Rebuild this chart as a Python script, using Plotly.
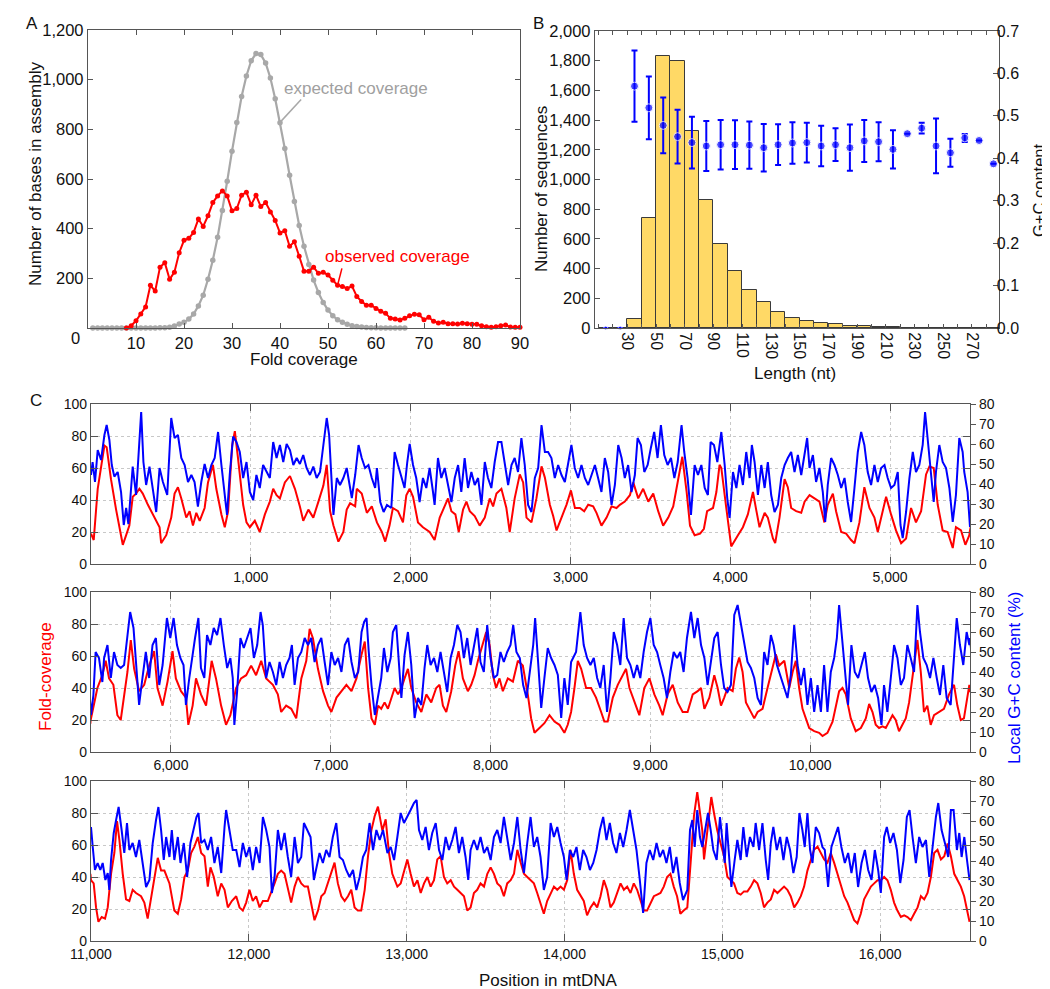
import plotly.graph_objects as go

# ---------------- DATA ----------------
# Panel A: fold coverage histogram
expected_x = list(range(1, 67))
expected_y = [0, 0, 0, 0, 0, 0, 0, 0, 0, 0, 0, 0, 0, 0, 1, 1, 3, 8, 16, 23,
              36, 56, 89, 132, 196, 273, 365, 473, 591, 712, 828, 932, 1015, 1076, 1105, 1101,
              1067, 1007, 923, 827, 723, 615, 509, 413, 329, 256, 193, 143, 103, 72,
              49, 33, 23, 15, 9, 6, 4, 2, 1, 1, 0, 0, 0, 0, 0, 0]
observed_x = list(range(8, 91))
observed_y = [0, 9, 29, 56, 85, 172, 149, 245, 263, 196, 225, 303, 353, 361, 385, 439,
              409, 452, 505, 532, 552, 532, 472, 481, 535, 547, 496, 535, 489, 505, 467, 433,
              383, 392, 329, 347, 289, 229, 229, 245, 220, 225, 213, 192, 172, 167, 159, 169,
              127, 107, 92, 92, 79, 67, 59, 39, 36, 32, 39, 49, 55, 53, 33, 43,
              27, 20, 23, 17, 17, 16, 19, 17, 15, 15, 9, 5, 3, 5, 9, 12, 4, 3, 3]

# Panel B: read-length histogram and G+C content
length_bins = [15, 25, 35, 45, 55, 65, 75, 85, 95, 105, 115, 125, 135, 145, 155, 165,
               175, 185, 195, 205, 215, 225, 235, 245, 255, 265, 275, 285]
seq_counts = [0, 0, 59, 742, 1835, 1795, 1324, 864, 566, 386, 253, 176, 106, 68, 45, 35,
              25, 16, 11, 5, 5, 1, 1, 1, 1, 1, 1, 0]
gc_mean = [0.0, 0.0, 0.570, 0.519, 0.4775, 0.451, 0.437, 0.429, 0.432, 0.432, 0.431, 0.425,
           0.432, 0.436, 0.437, 0.429, 0.432, 0.425, 0.441, 0.439, 0.421, 0.458, 0.471, 0.429,
           0.413, 0.448, 0.442, 0.387]
gc_err = [0, 0, 0.084, 0.074, 0.0655, 0.0635, 0.061, 0.059, 0.0585, 0.0575, 0.0555, 0.056,
          0.048, 0.049, 0.047, 0.0475, 0.0385, 0.0545, 0.0495, 0.046, 0.045, 0, 0.0125, 0.0645,
          0.033, 0.0095, 0, 0]
length_tick_vals = list(range(10, 290, 10))
length_tick_labels = ["30", "50", "70", "90", "110", "130", "150", "170", "190", "210", "230", "250", "270"]

# Panel C: fold coverage (position, value) along mtDNA
coverage_points = [
    (0, 19), (17, 15), (42, 47), (84, 74), (98, 73), (125, 53), (157, 34), (199, 12), (220, 18), (240, 24),
    (261, 42), (282, 44), (303, 47), (324, 44), (356, 37), (397, 29), (429, 23), (439, 13), (471, 18), (502, 29),
    (523, 44), (544, 48), (565, 41), (596, 29), (617, 33), (638, 24), (659, 32), (680, 27), (711, 35), (732, 51),
    (763, 62), (784, 47), (816, 31), (837, 23), (858, 33), (883, 74), (900, 83), (920, 66), (952, 37), (973, 26),
    (994, 23), (1025, 27), (1056, 20), (1088, 31), (1119, 39), (1140, 47), (1161, 43), (1182, 41), (1213, 51), (1245, 55),
    (1276, 47), (1307, 36), (1328, 27), (1360, 34), (1391, 29), (1423, 39), (1454, 49), (1475, 62), (1496, 33), (1517, 24),
    (1548, 14), (1579, 20), (1600, 34), (1621, 38), (1653, 36), (1663, 47), (1694, 44), (1726, 32), (1757, 36), (1789, 26),
    (1820, 20), (1841, 14), (1868, 24), (1889, 35), (1921, 33), (1952, 26), (1973, 43), (1994, 47), (2015, 42), (2046, 26),
    (2077, 23), (2119, 20), (2150, 15), (2182, 29), (2213, 36), (2234, 41), (2255, 33), (2280, 31), (2301, 20), (2328, 34),
    (2349, 39), (2370, 33), (2401, 30), (2432, 24), (2464, 29), (2495, 41), (2516, 36), (2537, 44), (2568, 47), (2599, 35),
    (2620, 20), (2651, 41), (2683, 56), (2704, 51), (2725, 29), (2756, 26), (2787, 41), (2819, 61), (2840, 54), (2871, 37),
    (2892, 30), (2913, 21), (2944, 29), (2975, 37), (3003, 46), (3028, 35), (3059, 35), (3086, 33), (3111, 37), (3142, 36),
    (3163, 32), (3194, 24), (3226, 29), (3257, 36), (3288, 35), (3309, 37), (3340, 39), (3372, 43), (3393, 51), (3424, 41),
    (3455, 47), (3487, 39), (3518, 44), (3549, 33), (3580, 24), (3612, 29), (3643, 36), (3675, 54), (3700, 67), (3727, 45),
    (3748, 24), (3777, 18), (3811, 19), (3835, 22), (3855, 33), (3892, 35), (3913, 45), (3933, 62), (3944, 60), (3975, 35),
    (4006, 11), (4048, 18), (4079, 23), (4110, 31), (4142, 45), (4162, 34), (4183, 23), (4215, 32), (4235, 29), (4267, 16),
    (4281, 13), (4308, 29), (4340, 53), (4360, 48), (4381, 35), (4412, 33), (4444, 32), (4465, 39), (4496, 43), (4527, 41),
    (4558, 39), (4589, 26), (4610, 37), (4642, 44), (4662, 33), (4694, 20), (4725, 19), (4756, 15), (4777, 13), (4808, 26),
    (4839, 48), (4871, 35), (4902, 29), (4923, 20), (4954, 33), (4975, 42), (5006, 31), (5037, 21), (5069, 13), (5100, 16),
    (5131, 35), (5162, 26), (5194, 33), (5225, 56), (5246, 61), (5273, 60), (5298, 37), (5329, 21), (5360, 20), (5392, 10),
    (5412, 23), (5444, 21), (5471, 12), (5496, 18),
    (5498, 20), (5540, 40), (5571, 48), (5592, 57), (5613, 46), (5640, 42), (5665, 23), (5686, 20), (5707, 36), (5728, 50),
    (5749, 70), (5770, 52), (5801, 38), (5833, 42), (5864, 54), (5895, 63), (5916, 40), (5948, 29), (5979, 44), (6010, 63),
    (6031, 46), (6063, 38), (6094, 34), (6109, 17), (6136, 29), (6157, 46), (6188, 36), (6220, 29), (6255, 57), (6282, 46),
    (6314, 29), (6345, 17), (6372, 23), (6408, 40), (6439, 46), (6471, 48), (6502, 54), (6533, 48), (6565, 57), (6596, 46),
    (6638, 42), (6669, 36), (6690, 25), (6721, 29), (6753, 27), (6784, 21), (6816, 46), (6847, 57), (6868, 77), (6889, 71),
    (6920, 52), (6952, 38), (6983, 29), (7004, 25), (7036, 34), (7067, 38), (7098, 42), (7130, 38), (7161, 46), (7193, 61),
    (7213, 69), (7234, 40), (7255, 21), (7276, 17), (7296, 29), (7316, 27), (7337, 31), (7358, 27), (7379, 34), (7400, 40),
    (7421, 36), (7442, 40), (7462, 46), (7483, 52), (7504, 40), (7535, 31), (7567, 25), (7598, 36), (7629, 31), (7660, 40),
    (7681, 42), (7702, 29), (7723, 25), (7754, 38), (7779, 54), (7800, 63), (7827, 46), (7858, 38), (7879, 42), (7900, 48),
    (7921, 57), (7952, 67), (7973, 75), (7994, 67), (8015, 48), (8035, 40), (8056, 46), (8077, 38), (8108, 46), (8140, 44),
    (8171, 57), (8202, 54), (8233, 36), (8254, 21), (8275, 12), (8306, 15), (8337, 18), (8369, 23), (8400, 19), (8431, 17),
    (8462, 12), (8483, 17), (8504, 25), (8525, 40), (8546, 57), (8567, 52), (8598, 40), (8629, 40), (8660, 34), (8692, 25),
    (8712, 19), (8733, 19), (8765, 34), (8796, 42), (8827, 48), (8848, 52), (8869, 40), (8900, 31), (8931, 23), (8962, 40),
    (8994, 46), (9025, 36), (9056, 29), (9077, 23), (9108, 36), (9140, 42), (9171, 31), (9202, 25), (9233, 25), (9265, 36),
    (9296, 38), (9317, 40), (9338, 27), (9369, 34), (9400, 48), (9421, 40), (9442, 29), (9462, 34), (9483, 40), (9515, 38),
    (9535, 52), (9556, 59), (9577, 50), (9598, 31), (9619, 27), (9650, 21), (9671, 25), (9702, 27), (9733, 40), (9765, 54),
    (9785, 61), (9806, 54), (9838, 57), (9869, 40), (9890, 50), (9910, 57), (9931, 40), (9952, 27), (9973, 21), (9994, 15),
    (10025, 13), (10056, 12), (10077, 10), (10108, 12), (10140, 19), (10160, 29), (10181, 38), (10202, 40), (10223, 36), (10254, 21),
    (10285, 13), (10317, 15), (10348, 21), (10369, 30), (10390, 25), (10410, 17), (10431, 15), (10452, 16), (10473, 15), (10494, 19),
    (10515, 23), (10535, 20), (10556, 13), (10577, 17), (10598, 21), (10619, 31), (10646, 50), (10671, 70), (10692, 50), (10712, 25),
    (10733, 29), (10754, 17), (10775, 23), (10806, 25), (10837, 27), (10869, 36), (10900, 42), (10921, 29), (10942, 20), (10962, 21),
    (10983, 34), (10996, 42),
    (11000, 38), (11017, 36), (11032, 21), (11047, 12), (11068, 15), (11089, 14), (11106, 21), (11127, 42), (11148, 55), (11165, 75),
    (11180, 63), (11201, 42), (11222, 26), (11243, 25), (11264, 32), (11285, 30), (11317, 28), (11338, 24), (11359, 14), (11381, 28),
    (11402, 40), (11423, 52), (11444, 44), (11465, 44), (11497, 36), (11528, 19), (11550, 17), (11571, 26), (11592, 40), (11613, 44),
    (11634, 55), (11655, 59), (11677, 65), (11698, 55), (11719, 53), (11740, 34), (11757, 46), (11778, 40), (11803, 28), (11825, 36),
    (11846, 32), (11867, 21), (11892, 25), (11920, 28), (11941, 21), (11962, 19), (11983, 24), (12004, 32), (12025, 25), (12046, 28),
    (12068, 21), (12089, 25), (12120, 25), (12141, 30), (12163, 36), (12184, 42), (12205, 44), (12226, 42), (12247, 32), (12268, 24),
    (12290, 34), (12311, 40), (12332, 36), (12353, 34), (12374, 34), (12395, 24), (12416, 13), (12438, 19), (12459, 28), (12480, 30),
    (12501, 36), (12522, 42), (12543, 49), (12564, 36), (12586, 28), (12607, 25), (12628, 28), (12649, 32), (12670, 21), (12691, 19),
    (12712, 19), (12734, 32), (12755, 53), (12776, 69), (12797, 78), (12818, 84), (12846, 69), (12867, 76), (12888, 55), (12909, 42),
    (12941, 34), (12962, 36), (12983, 44), (13004, 51), (13025, 42), (13046, 34), (13068, 38), (13089, 30), (13110, 36), (13131, 40),
    (13152, 34), (13173, 38), (13194, 51), (13215, 53), (13236, 40), (13257, 36), (13279, 38), (13300, 34), (13321, 32), (13342, 30),
    (13363, 28), (13384, 19), (13405, 21), (13426, 30), (13447, 32), (13468, 36), (13490, 34), (13511, 42), (13532, 46), (13553, 42),
    (13574, 36), (13595, 34), (13616, 28), (13637, 36), (13659, 38), (13680, 42), (13701, 57), (13722, 49), (13743, 42), (13764, 40),
    (13785, 38), (13806, 36), (13827, 30), (13848, 24), (13869, 17), (13890, 25), (13912, 30), (13933, 34), (13954, 32), (13975, 34),
    (13996, 32), (14017, 38), (14038, 57), (14059, 42), (14080, 32), (14101, 28), (14122, 25), (14143, 16), (14165, 21), (14186, 24),
    (14207, 21), (14228, 28), (14249, 38), (14270, 32), (14291, 21), (14312, 24), (14333, 30), (14355, 36), (14376, 32), (14397, 34),
    (14418, 30), (14439, 36), (14460, 32), (14481, 25), (14502, 19), (14523, 19), (14545, 24), (14566, 28), (14587, 29), (14608, 30),
    (14629, 34), (14650, 40), (14671, 42), (14692, 34), (14713, 28), (14734, 17), (14755, 19), (14778, 21), (14799, 49), (14820, 78),
    (14841, 93), (14858, 80), (14873, 69), (14884, 51), (14905, 69), (14930, 90), (14947, 80), (14968, 69), (14989, 61), (15011, 53),
    (15032, 40), (15053, 38), (15074, 36), (15095, 30), (15116, 29), (15137, 31), (15159, 31), (15180, 34), (15201, 38), (15222, 36),
    (15243, 30), (15264, 21), (15285, 24), (15307, 26), (15328, 32), (15349, 30), (15370, 32), (15391, 34), (15412, 32), (15433, 28),
    (15455, 21), (15476, 24), (15497, 28), (15518, 34), (15539, 44), (15560, 51), (15581, 57), (15603, 59), (15624, 55), (15645, 51),
    (15666, 49), (15687, 55), (15708, 49), (15729, 42), (15751, 34), (15772, 28), (15793, 24), (15814, 19), (15835, 13), (15856, 11),
    (15877, 17), (15898, 26), (15919, 30), (15941, 34), (15962, 36), (15983, 38), (16004, 38), (16025, 40), (16046, 38), (16067, 32),
    (16088, 24), (16109, 19), (16131, 15), (16152, 16), (16173, 15), (16194, 13), (16215, 17), (16237, 21), (16258, 28), (16279, 26),
    (16300, 30), (16321, 40), (16342, 55), (16363, 57), (16385, 51), (16406, 53), (16427, 61), (16448, 53), (16469, 42), (16490, 38),
    (16511, 34), (16532, 28), (16553, 17), (16566, 12),
]

# Panel C: local G+C content (%) (position, value)
gc_points = [
    (0, 44.5), (10, 51), (25, 41), (42, 57), (63, 52), (84, 64.5), (98, 69.5), (115, 62), (130, 49.5), (146, 43.7),
    (167, 46), (188, 36), (205, 19.5), (220, 28), (234, 20), (261, 48.7), (282, 34.5), (303, 63.7), (314, 76), (328, 51),
    (345, 39.5), (366, 48.7), (387, 36), (408, 26), (429, 48), (450, 41), (477, 34.5), (502, 73), (523, 63), (544, 64.5),
    (565, 53), (586, 49.5), (607, 41), (628, 44.5), (648, 41), (669, 28.7), (690, 41), (711, 50), (732, 43), (753, 49.5),
    (774, 53), (795, 66), (816, 49.5), (837, 33), (851, 24.5), (868, 44.5), (889, 63.7), (910, 61), (931, 56), (952, 43),
    (973, 51), (994, 36), (1015, 32), (1035, 44.5), (1056, 38), (1077, 49.5), (1098, 46), (1119, 43), (1140, 61), (1161, 53),
    (1182, 59.5), (1203, 51), (1224, 60), (1245, 57), (1266, 49.5), (1287, 53), (1307, 50), (1328, 54.5), (1349, 48), (1370, 44.5),
    (1391, 48.7), (1412, 43), (1433, 46), (1454, 59.5), (1475, 73), (1490, 64.5), (1506, 43), (1517, 24.5), (1538, 43), (1558, 39.5),
    (1579, 43), (1600, 48), (1632, 33), (1653, 44.5), (1674, 59.5), (1694, 53), (1715, 48), (1736, 49.5), (1757, 43), (1778, 38),
    (1789, 48), (1810, 31), (1831, 26), (1852, 29.5), (1879, 28), (1900, 56), (1921, 49.5), (1942, 43), (1962, 38), (1979, 51),
    (1994, 60), (2015, 49.5), (2035, 43), (2056, 31), (2077, 43), (2098, 38), (2119, 48), (2140, 36), (2150, 29.5), (2171, 53),
    (2192, 43), (2213, 48), (2234, 39.5), (2255, 31), (2276, 43), (2297, 49.5), (2317, 36), (2338, 53), (2359, 38), (2380, 46),
    (2401, 39.5), (2422, 43), (2443, 29.5), (2464, 51), (2484, 43), (2505, 38), (2526, 51), (2547, 61), (2568, 61), (2589, 51),
    (2610, 39.5), (2631, 49.5), (2651, 53), (2672, 46), (2693, 63), (2714, 49.5), (2735, 29.5), (2756, 26), (2777, 43), (2798, 48),
    (2819, 69.5), (2840, 56), (2860, 56), (2881, 53), (2902, 43), (2923, 49.5), (2944, 44.5), (2965, 41), (2986, 49.5), (3006, 59.5),
    (3027, 48), (3048, 43), (3069, 49.5), (3090, 43), (3111, 39.5), (3132, 44.5), (3153, 49.5), (3173, 43), (3194, 36), (3215, 53),
    (3236, 46), (3257, 29.5), (3278, 39.5), (3299, 59.5), (3320, 53), (3340, 43), (3361, 49.5), (3382, 36), (3403, 44.5), (3420, 63),
    (3441, 59.5), (3462, 46), (3483, 49.5), (3503, 58), (3524, 66), (3545, 53), (3566, 69.5), (3587, 54.5), (3608, 49.5), (3629, 53),
    (3650, 43), (3671, 51), (3695, 69.5), (3712, 56), (3733, 43), (3754, 24.5), (3777, 49.5), (3798, 44.5), (3819, 49.5), (3840, 38),
    (3860, 34.5), (3877, 61), (3898, 59.5), (3919, 51), (3944, 66), (3965, 49.5), (3981, 33), (3996, 23), (4017, 46), (4038, 38),
    (4058, 49.5), (4079, 39.5), (4100, 56), (4121, 43), (4135, 59.5), (4152, 51), (4173, 34.5), (4194, 49.5), (4215, 38), (4235, 51),
    (4256, 34.5), (4277, 26), (4298, 29.5), (4319, 43), (4340, 49.5), (4360, 53), (4381, 56), (4402, 46), (4423, 54.5), (4444, 44.5),
    (4465, 56), (4481, 63), (4496, 48), (4517, 54.5), (4537, 41), (4558, 48), (4579, 36), (4594, 21), (4610, 39.5), (4631, 53),
    (4652, 49.5), (4673, 44.5), (4694, 38), (4715, 43), (4735, 31), (4756, 21), (4777, 38), (4798, 56), (4819, 66), (4839, 59.5),
    (4860, 46), (4881, 39.5), (4902, 49.5), (4923, 41), (4944, 48), (4965, 49.5), (4985, 43), (5006, 38), (5027, 39.5), (5048, 46),
    (5065, 19.5), (5079, 13), (5100, 26), (5121, 43), (5142, 56), (5162, 46), (5183, 49.5), (5204, 59.5), (5219, 76), (5235, 63),
    (5256, 48), (5273, 31), (5287, 46), (5308, 59.5), (5329, 51), (5350, 48), (5371, 38), (5392, 21), (5412, 34.5), (5433, 63),
    (5454, 56), (5464, 46), (5485, 36), (5498, 19.5),
    (5500, 18.5), (5515, 28.5), (5529, 50), (5550, 47), (5571, 35), (5582, 47), (5603, 53.5), (5624, 37), (5644, 50), (5665, 43.5),
    (5686, 42), (5707, 43.5), (5728, 60), (5745, 70), (5766, 62), (5786, 37), (5801, 23.5), (5822, 37), (5843, 50), (5864, 37),
    (5885, 53.5), (5906, 57), (5927, 33.5), (5948, 43.5), (5975, 67), (5996, 57), (6017, 67), (6038, 53.5), (6059, 47), (6079, 43.5),
    (6094, 23.5), (6115, 37), (6136, 50), (6151, 57), (6172, 67), (6188, 42), (6209, 37), (6226, 58.5), (6247, 53.5), (6268, 62),
    (6289, 58.5), (6310, 67), (6331, 53.5), (6352, 42), (6372, 47), (6387, 37), (6397, 13.5), (6414, 30), (6435, 57), (6456, 52),
    (6477, 57), (6498, 62), (6519, 47), (6540, 53.5), (6561, 70), (6575, 63.5), (6596, 37), (6617, 45), (6638, 40), (6659, 33.5),
    (6680, 45), (6701, 37), (6721, 43.5), (6742, 47), (6757, 53.5), (6774, 33.5), (6795, 47), (6816, 50), (6837, 57), (6858, 53.5),
    (6878, 57), (6899, 45), (6920, 53.5), (6941, 57), (6962, 45), (6983, 33.5), (7004, 50), (7025, 43.5), (7046, 47), (7067, 40),
    (7088, 53.5), (7109, 57), (7130, 45), (7151, 37), (7172, 40), (7193, 60), (7209, 65), (7224, 67), (7238, 50), (7255, 33.5),
    (7276, 18.5), (7316, 37), (7333, 52), (7354, 40), (7375, 47), (7389, 60), (7410, 63.5), (7431, 37), (7442, 27), (7462, 48.5),
    (7483, 60), (7504, 43.5), (7525, 17), (7546, 27), (7567, 23.5), (7587, 42), (7604, 53.5), (7625, 43.5), (7646, 47), (7667, 40),
    (7687, 50), (7708, 40), (7729, 30), (7750, 47), (7771, 53.5), (7792, 63.5), (7812, 60), (7833, 47), (7854, 57), (7875, 43.5),
    (7896, 53.5), (7917, 62), (7937, 45), (7958, 40), (7979, 63.5), (8000, 47), (8021, 37), (8042, 38.5), (8062, 50), (8083, 45),
    (8104, 50), (8125, 53.5), (8142, 63.5), (8162, 50), (8183, 47), (8204, 33.5), (8225, 27), (8246, 40), (8267, 53.5), (8279, 67),
    (8296, 47), (8317, 22), (8337, 37), (8358, 52), (8379, 47), (8400, 43.5), (8421, 38.5), (8442, 17), (8462, 37), (8483, 23.5),
    (8504, 45), (8535, 50), (8562, 70), (8583, 53.5), (8604, 47), (8625, 43.5), (8646, 47), (8667, 37), (8687, 32), (8708, 43.5),
    (8729, 20), (8750, 37), (8771, 60), (8792, 53.5), (8812, 43.5), (8833, 67), (8854, 47), (8875, 43.5), (8896, 37), (8917, 43.5),
    (8937, 37), (8958, 50), (8979, 60), (9000, 67), (9021, 53.5), (9042, 50), (9062, 43.5), (9083, 37), (9104, 27), (9125, 40),
    (9146, 50), (9167, 47), (9187, 50), (9208, 40), (9229, 57), (9254, 70), (9275, 57), (9296, 67), (9317, 53.5), (9338, 47),
    (9358, 33.5), (9379, 45), (9400, 57), (9421, 60), (9442, 43.5), (9462, 32), (9483, 30), (9504, 33.5), (9525, 68.5), (9546, 73.5),
    (9567, 63.5), (9587, 53.5), (9608, 45), (9629, 42), (9650, 37), (9671, 27), (9692, 23.5), (9712, 50), (9733, 43.5), (9754, 58.5),
    (9771, 53.5), (9792, 43.5), (9817, 37), (9838, 32), (9858, 27), (9879, 38.5), (9900, 63.5), (9921, 43.5), (9942, 33.5), (9962, 42),
    (9983, 23.5), (10004, 37), (10025, 20), (10046, 33.5), (10067, 20), (10087, 43.5), (10108, 20), (10129, 40), (10150, 47), (10167, 57),
    (10181, 73.5), (10196, 60), (10217, 40), (10237, 23.5), (10258, 53.5), (10279, 40), (10300, 37), (10321, 43.5), (10342, 50), (10362, 37),
    (10383, 30), (10404, 33.5), (10425, 27), (10446, 13.5), (10462, 33.5), (10483, 20), (10504, 37), (10525, 53.5), (10546, 47), (10567, 33.5),
    (10587, 37), (10608, 53.5), (10629, 47), (10650, 40), (10671, 73.5), (10687, 60), (10708, 47), (10729, 43.5), (10750, 37), (10771, 47),
    (10792, 37), (10812, 28.5), (10833, 43.5), (10854, 27), (10879, 23.5), (10900, 50), (10917, 67), (10937, 53.5), (10958, 43.5), (10979, 60),
    (10996, 53.5),
    (11000, 57), (11011, 47), (11025, 35.5), (11042, 39), (11059, 35.5), (11074, 39), (11091, 30.5), (11106, 34), (11116, 25.5), (11127, 40.5),
    (11144, 54), (11159, 60.5), (11175, 67), (11194, 55.5), (11211, 44), (11228, 59), (11243, 45.5), (11264, 49), (11285, 42), (11306, 50.5),
    (11328, 39), (11349, 27), (11370, 30.5), (11391, 49), (11412, 60.5), (11427, 67), (11444, 55.5), (11461, 40.5), (11476, 52), (11497, 42),
    (11512, 55.5), (11528, 40.5), (11550, 52), (11567, 39), (11588, 49), (11609, 32), (11630, 49), (11651, 55.5), (11668, 62), (11681, 64),
    (11698, 49), (11719, 50.5), (11740, 45.5), (11761, 52), (11782, 39), (11803, 47), (11825, 34), (11846, 57), (11856, 65.5), (11877, 55.5),
    (11898, 45.5), (11920, 45.5), (11941, 37), (11962, 49), (11983, 42), (12004, 47), (12025, 35.5), (12046, 47), (12068, 39), (12089, 62),
    (12110, 55.5), (12131, 47), (12146, 24), (12163, 32), (12184, 55.5), (12205, 45.5), (12226, 54), (12247, 42), (12268, 32), (12290, 52),
    (12311, 39), (12332, 42), (12349, 59), (12370, 55.5), (12391, 52), (12412, 30.5), (12427, 35.5), (12448, 44), (12469, 39), (12490, 45.5),
    (12511, 42), (12532, 52), (12554, 59), (12575, 42), (12596, 40.5), (12617, 35.5), (12638, 32), (12660, 35.5), (12681, 25.5), (12702, 32),
    (12723, 42), (12744, 45.5), (12765, 59), (12787, 45.5), (12808, 55.5), (12829, 50.5), (12850, 55.5), (12878, 44), (12899, 47), (12920, 40.5),
    (12941, 52), (12962, 64), (12983, 59), (13004, 62), (13025, 65.5), (13046, 69), (13063, 70.5), (13078, 55.5), (13099, 50.5), (13120, 57),
    (13141, 45.5), (13162, 54), (13184, 59), (13205, 45.5), (13226, 40.5), (13247, 52), (13268, 45.5), (13289, 50.5), (13310, 57), (13331, 44),
    (13352, 52), (13373, 42), (13390, 30.5), (13405, 45.5), (13426, 50.5), (13447, 45.5), (13468, 52), (13490, 44), (13511, 47), (13532, 40.5),
    (13553, 52), (13574, 55.5), (13595, 49), (13616, 62), (13637, 52), (13659, 40.5), (13680, 49), (13701, 62), (13722, 45.5), (13743, 34),
    (13764, 49), (13785, 62), (13806, 47), (13827, 52), (13848, 42), (13869, 25.5), (13890, 32), (13912, 59), (13933, 52), (13954, 57),
    (13975, 49), (13996, 42), (14013, 30.5), (14034, 45.5), (14055, 42), (14076, 47), (14097, 35.5), (14118, 45.5), (14139, 42), (14161, 35.5),
    (14182, 39), (14203, 45.5), (14224, 55.5), (14245, 62), (14266, 50.5), (14287, 59), (14308, 49), (14329, 44), (14351, 54), (14372, 47),
    (14393, 55.5), (14414, 65.5), (14435, 55.5), (14456, 45.5), (14477, 30.5), (14498, 14), (14519, 39), (14540, 45.5), (14562, 40.5), (14583, 49),
    (14604, 42), (14625, 45.5), (14646, 39), (14667, 47), (14688, 34), (14709, 42), (14730, 29), (14751, 20.5), (14778, 25.5), (14795, 55.5),
    (14810, 60.5), (14825, 47), (14841, 65.5), (14858, 52), (14873, 47), (14894, 57), (14909, 64), (14926, 55.5), (14943, 45.5), (14964, 40.5),
    (14985, 62), (15000, 50.5), (15015, 39), (15027, 59), (15042, 44), (15057, 27), (15078, 40.5), (15095, 50.5), (15116, 40.5), (15133, 57),
    (15154, 42), (15175, 52), (15197, 47), (15211, 59), (15233, 45.5), (15254, 59), (15275, 40.5), (15290, 30.5), (15307, 49), (15323, 57),
    (15345, 45.5), (15366, 52), (15387, 40.5), (15408, 52), (15429, 45.5), (15450, 34), (15471, 42), (15488, 64), (15507, 55.5), (15522, 47),
    (15539, 64), (15556, 45.5), (15571, 39), (15592, 57), (15613, 54), (15634, 47), (15649, 45.5), (15670, 27), (15691, 47), (15712, 52),
    (15733, 57), (15754, 47), (15776, 39), (15797, 44), (15818, 34), (15839, 44), (15860, 27), (15882, 39), (15903, 45.5), (15924, 35.5),
    (15945, 30.5), (15966, 45.5), (15987, 35.5), (16004, 24), (16025, 52), (16042, 57), (16063, 49), (16084, 54), (16106, 45.5), (16127, 29),
    (16148, 40.5), (16169, 62), (16186, 65.5), (16205, 52), (16226, 39), (16247, 52), (16268, 47), (16290, 50.5), (16311, 32), (16332, 47),
    (16353, 62), (16368, 69), (16389, 55.5), (16410, 49), (16431, 42), (16448, 65.5), (16465, 65.5), (16486, 45.5), (16501, 54), (16516, 42),
    (16533, 52), (16550, 40.5), (16566, 30.5),
]

row_ranges = [(0, 5500), (5500, 11000), (11000, 16569)]
row_ticks = [[1000, 2000, 3000, 4000, 5000],
             [6000, 7000, 8000, 9000, 10000],
             [11000, 12000, 13000, 14000, 15000, 16000]]

# ---------------- LAYOUT HELPERS ----------------
W, H = 1050, 989
FONT = "Arial, 'Liberation Sans', Helvetica, sans-serif"
AX = "#555555"
RED = "#FF0000"
BLUE = "#0000FF"
GRAY = "#A8A8A8"


def fx(p):
    return p / W


def fy(p):
    return 1 - p / H


fig = go.Figure()

# ---------- Panel A ----------
fig.add_trace(go.Scatter(x=expected_x, y=expected_y, mode="lines+markers",
                         line=dict(color=GRAY, width=2.2), marker=dict(color=GRAY, size=5.5),
                         xaxis="x", yaxis="y", cliponaxis=False, showlegend=False))
fig.add_trace(go.Scatter(x=observed_x, y=observed_y, mode="lines+markers",
                         line=dict(color=RED, width=2), marker=dict(color=RED, size=5),
                         xaxis="x", yaxis="y", cliponaxis=False, showlegend=False))

# ---------- Panel B ----------
fig.add_trace(go.Bar(x=length_bins, y=seq_counts, width=10,
                     marker=dict(color="#FFD966", line=dict(color="#3A3A3A", width=1)),
                     xaxis="x2", yaxis="y2", showlegend=False))
fig.add_trace(go.Scatter(x=length_bins, y=gc_mean, mode="markers",
                         marker=dict(color=BLUE, size=[4 if v == 0 else 8 for v in gc_mean]),
                         error_y=dict(type="data", array=gc_err, visible=True, color=BLUE,
                                      thickness=2, width=3),
                         xaxis="x2", yaxis="y3", cliponaxis=False, showlegend=False))

# ---------- Panel C ----------
cov_pos = [p for p, v in coverage_points]
cov_val = [v for p, v in coverage_points]
gc_pos = [p for p, v in gc_points]
gc_val = [v for p, v in gc_points]

for i, (lo, hi) in enumerate(row_ranges):
    xa = "x%d" % (3 + i)
    yl = "y%d" % (4 + 2 * i)
    yr = "y%d" % (5 + 2 * i)
    ci = [k for k, p in enumerate(cov_pos) if lo - 60 <= p <= hi + 60]
    gi = [k for k, p in enumerate(gc_pos) if lo - 60 <= p <= hi + 60]
    fig.add_trace(go.Scatter(x=[cov_pos[k] for k in ci], y=[cov_val[k] for k in ci], mode="lines",
                             line=dict(color=RED, width=2), xaxis=xa, yaxis=yl, showlegend=False))
    fig.add_trace(go.Scatter(x=[gc_pos[k] for k in gi], y=[gc_val[k] for k in gi], mode="lines",
                             line=dict(color=BLUE, width=2), xaxis=xa, yaxis=yr,
                             showlegend=False))

common = dict(showline=True, linecolor=AX, linewidth=1.3, zeroline=False, automargin=False,
              tickfont=dict(family=FONT, size=16.5, color="#111111"), tickcolor=AX)

layout = dict(
    width=W, height=H, autosize=False,
    margin=dict(l=0, r=0, t=0, b=0, pad=0, autoexpand=False),
    paper_bgcolor="white", plot_bgcolor="white",
    font=dict(family=FONT, color="#111111"),
    bargap=0, showlegend=False,
)

# Panel A axes
layout["xaxis"] = dict(domain=[fx(80), fx(512)], anchor="y", range=[0, 90],
                       tickvals=[10, 20, 30, 40, 50, 60, 70, 80, 90], ticks="inside", ticklen=5,
                       mirror="ticks", showgrid=False, **common)
layout["yaxis"] = dict(domain=[fy(320), fy(22)], anchor="x", range=[0, 1200],
                       tickvals=[200, 400, 600, 800, 1000, 1200], tickformat=",d", ticks="inside",
                       ticklen=5, mirror="ticks", showgrid=False, **common)

# Panel B axes
b_ticktext = []
for v in length_tick_vals:
    if v >= 30 and v <= 270 and (v - 30) % 20 == 0:
        b_ticktext.append(length_tick_labels[(v - 30) // 20])
    else:
        b_ticktext.append("")
layout["xaxis2"] = dict(domain=[fx(587), fx(990.5)], anchor="y2", range=[7.5, 288.5],
                        tickvals=length_tick_vals, ticktext=b_ticktext,
                        tickangle=90, ticks="inside", ticklen=4, mirror="ticks", showgrid=False, **common)
layout["xaxis2"]["tickfont"] = dict(family=FONT, size=16, color="#111111")
layout["yaxis2"] = dict(domain=[fy(320), fy(23)], anchor="x2", range=[0, 2000], dtick=200,
                        tickformat=",d", ticks="inside", ticklen=5, showgrid=False, **common)
layout["yaxis3"] = dict(anchor="x2", overlaying="y2", side="right", range=[0, 0.7], dtick=0.1,
                        tickformat=".1f", ticks="inside", ticklen=5, showgrid=False,
                        ticklabelstandoff=-6, **common)
layout["yaxis3"]["tickfont"] = dict(family=FONT, size=16, color="#111111")

# Panel C axes
row_y = [(396, 556), (584, 744), (773, 933)]
commonC = dict(common)
commonC["tickfont"] = dict(family=FONT, size=14, color="#111111")
for i, (lo, hi) in enumerate(row_ranges):
    top, bot = row_y[i]
    layout["xaxis%d" % (3 + i)] = dict(domain=[fx(83), fx(962)], anchor="y%d" % (4 + 2 * i),
                                       range=[lo, hi], tickvals=row_ticks[i], tickformat=",d",
                                       ticks="inside", ticklen=7, mirror="ticks",
                                       showgrid=True, gridcolor="#C8C8C8", griddash="dot", gridwidth=1,
                                       **commonC)
    layout["yaxis%d" % (4 + 2 * i)] = dict(domain=[fy(bot), fy(top)], anchor="x%d" % (3 + i),
                                           range=[0, 100], tickvals=[0, 20, 40, 60, 80, 100],
                                           ticks="inside", ticklen=7, mirror="ticks",
                                           showgrid=True, gridcolor="#C8C8C8", griddash="dot", gridwidth=1,
                                           **commonC)
    layout["yaxis%d" % (5 + 2 * i)] = dict(anchor="x%d" % (3 + i), overlaying="y%d" % (4 + 2 * i),
                                           side="right", range=[0, 80], dtick=10,
                                           ticks="outside", ticklen=5, showgrid=False, **commonC)

fig.update_layout(**layout)

# ---------- Text annotations ----------
def txt(text, x, y, size=17, color="#111111", angle=0, xanchor="center", yanchor="middle", xref="paper", yref="paper"):
    fig.add_annotation(text=text, x=x, y=y, xref=xref, yref=yref, showarrow=False,
                       textangle=angle, xanchor=xanchor, yanchor=yanchor,
                       font=dict(family=FONT, size=size, color=color))

txt("A", fx(24), fy(15))
txt("B", fx(530), fy(15))
txt("C", fx(28), fy(393))
txt("0", fx(67), fy(330), size=16.5)
txt("Number of bases in assembly", fx(27), fy(166), angle=-90)
txt("Fold coverage", fx(296), fy(352))
txt("Number of sequences", fx(533), fy(181), angle=-90)
txt("G+C content", fx(1031), fy(182), angle=-90, size=16.5)
txt("Length (nt)", fx(787), fy(365))
txt("Fold-coverage", fx(37), fy(669), color=RED, angle=-90)
txt("Local G+C content (%)", fx(1006), fy(670), color=BLUE, angle=-90)
txt("Position in mtDNA", fx(540), fy(972))

# panel A curve labels and leader lines
txt("expected coverage", 40.4, 964, color="#A0A0A0", xanchor="left", xref="x", yref="y")
txt("observed coverage", 49.0, 288, color=RED, xanchor="left", xref="x", yref="y")
fig.add_shape(type="line", xref="x", yref="y", x0=44.4, y0=920, x1=40.0, y1=828,
              line=dict(color="#A8A8A8", width=1.5))
fig.add_shape(type="line", xref="x", yref="y", x0=52.9, y0=240, x1=52.1, y1=180,
              line=dict(color=RED, width=1.5))

fig.write_html("out.html")
